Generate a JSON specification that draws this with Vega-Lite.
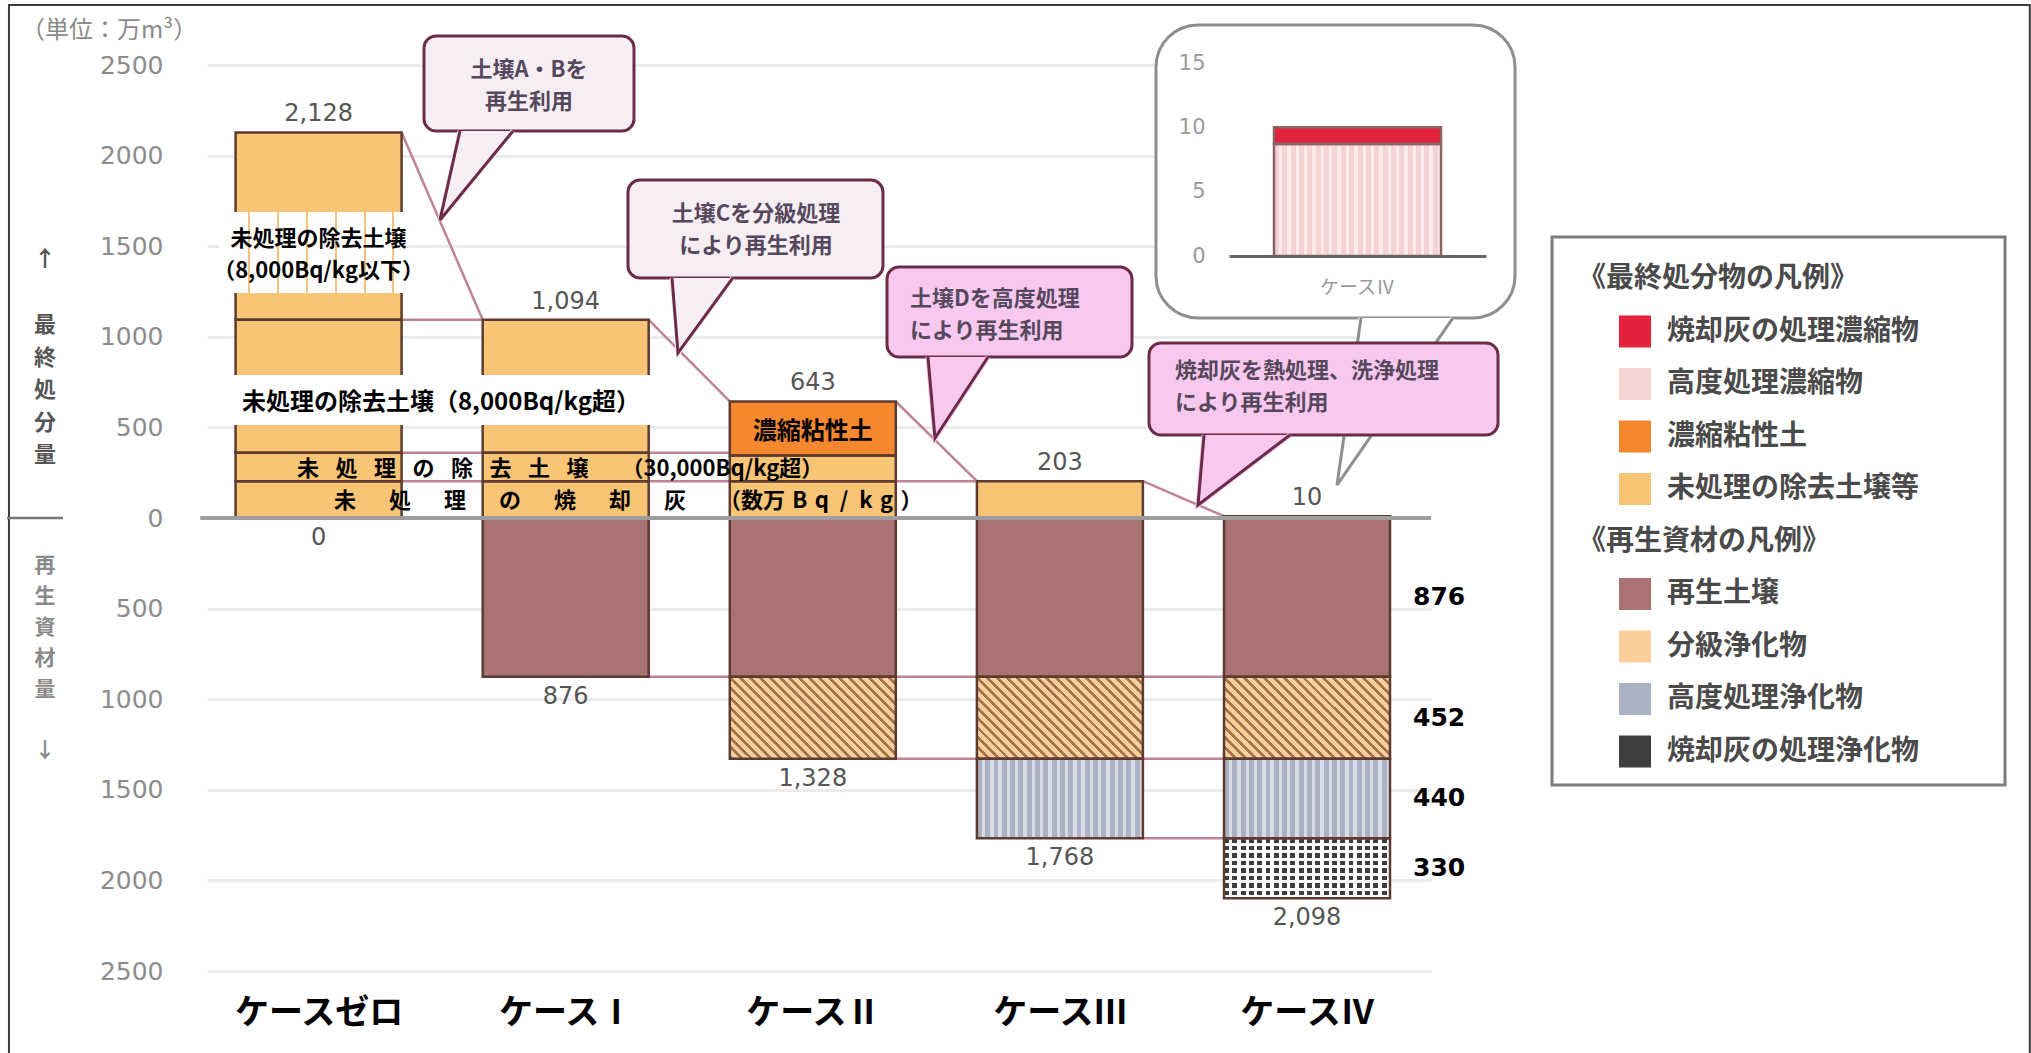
{
  "$schema": "https://vega.github.io/schema/vega-lite/v6.json",
  "width": 1224,
  "height": 906,
  "autosize": {"type": "none"},
  "padding": {"left": 207, "top": 65, "right": 600, "bottom": 82},
  "background": "#ffffff",
  "config": {"view": {"stroke": null}, "font": "Noto Sans CJK JP"},
  "datasets": {
    "seg": [
      {"case": 0, "kind": "未処理の除去土壌等", "part": "未処理の焼却灰", "amount": 203, "seq": 1},
      {"case": 0, "kind": "未処理の除去土壌等", "part": "除去土壌30,000Bq/kg超", "amount": 157, "seq": 2},
      {"case": 0, "kind": "未処理の除去土壌等", "part": "除去土壌8,000Bq/kg超", "amount": 734, "seq": 3},
      {"case": 0, "kind": "未処理の除去土壌等", "part": "除去土壌8,000Bq/kg以下", "amount": 1034, "seq": 4},
      {"case": 1, "kind": "未処理の除去土壌等", "part": "未処理の焼却灰", "amount": 203, "seq": 1},
      {"case": 1, "kind": "未処理の除去土壌等", "part": "除去土壌30,000Bq/kg超", "amount": 157, "seq": 2},
      {"case": 1, "kind": "未処理の除去土壌等", "part": "除去土壌8,000Bq/kg超", "amount": 734, "seq": 3},
      {"case": 2, "kind": "未処理の除去土壌等", "part": "未処理の焼却灰", "amount": 203, "seq": 1},
      {"case": 2, "kind": "未処理の除去土壌等", "part": "除去土壌30,000Bq/kg超", "amount": 142, "seq": 2},
      {"case": 2, "kind": "濃縮粘性土", "part": "濃縮粘性土", "amount": 298, "seq": 3},
      {"case": 3, "kind": "未処理の除去土壌等", "part": "未処理の除去土壌等", "amount": 203, "seq": 1},
      {"case": 4, "kind": "高度処理濃縮物", "part": "高度処理濃縮物", "amount": 8.7, "seq": 1},
      {"case": 4, "kind": "焼却灰の処理濃縮物", "part": "焼却灰の処理濃縮物", "amount": 1.3, "seq": 2},
      {"case": 1, "kind": "再生土壌", "part": "再生土壌", "amount": -876, "seq": 1},
      {"case": 2, "kind": "再生土壌", "part": "再生土壌", "amount": -876, "seq": 1},
      {"case": 2, "kind": "分級浄化物", "part": "分級浄化物", "amount": -452, "seq": 2},
      {"case": 3, "kind": "再生土壌", "part": "再生土壌", "amount": -876, "seq": 1},
      {"case": 3, "kind": "分級浄化物", "part": "分級浄化物", "amount": -452, "seq": 2},
      {"case": 3, "kind": "高度処理浄化物", "part": "高度処理浄化物", "amount": -440, "seq": 3},
      {"case": 4, "kind": "再生土壌", "part": "再生土壌", "amount": -876, "seq": 1},
      {"case": 4, "kind": "分級浄化物", "part": "分級浄化物", "amount": -452, "seq": 2},
      {"case": 4, "kind": "高度処理浄化物", "part": "高度処理浄化物", "amount": -440, "seq": 3},
      {"case": 4, "kind": "焼却灰の処理浄化物", "part": "焼却灰の処理浄化物", "amount": -330, "seq": 4}
    ],
    "totals": [
      {"case": 0, "final": 2128, "recycled": 0},
      {"case": 1, "final": 1094, "recycled": -876},
      {"case": 2, "final": 643, "recycled": -1328},
      {"case": 3, "final": 203, "recycled": -1768},
      {"case": 4, "final": 10, "recycled": -2098}
    ],
    "conn": [
      {"from": 0, "to": 1, "ya": 2128, "yb": 1094},
      {"from": 1, "to": 2, "ya": 1094, "yb": 643},
      {"from": 2, "to": 3, "ya": 643, "yb": 203},
      {"from": 3, "to": 4, "ya": 203, "yb": 10},
      {"from": 0, "to": 1, "ya": 1094, "yb": 1094},
      {"from": 0, "to": 2, "ya": 360, "yb": 360},
      {"from": 0, "to": 3, "ya": 203, "yb": 203},
      {"from": 1, "to": 4, "ya": -876, "yb": -876},
      {"from": 2, "to": 4, "ya": -1328, "yb": -1328},
      {"from": 3, "to": 4, "ya": -1768, "yb": -1768}
    ],
    "boxes": [
      {"id": "L1", "x": -0.4031, "x2": 0.3496, "top": 1689, "bottom": 1242},
      {"id": "L2", "x": -0.3505, "x2": 1.3573, "top": 789, "bottom": 513}
    ],
    "notes": [
      {"id": "L1", "text": ["未処理の除去土壌", "（8,000Bq/kg以下）"], "x": 0, "level": 1537},
      {"id": "L2", "text": "未処理の除去土壌（8,000Bq/kg超）", "x": 0.4953, "level": 635},
      {"id": "L5", "text": "濃縮粘性土", "x": 2, "level": 475},
      {"id": "L3", "text": "未\u2002\u2005処\u2002\u2005理\u2002\u2005の\u2002\u2005除\u2002\u2005去\u2002\u2005土\u2002\u2005壌\u3000\u2002（30,000Bq/kg超）", "x": -0.0874, "level": 273},
      {"id": "L4", "text": "未\u3000\u2002処\u3000\u2002理\u3000\u2002の\u3000\u2002焼\u3000\u2002却\u3000\u2002灰\u3000\u3000（数万\u2004B\u2004q\u2002/\u2002k\u2004g\u2004）", "x": 0.0623, "level": 94}
    ],
    "bodies": [
      {"id": "inset", "x": 3.3889, "x2": 4.8418, "top": 2721, "bottom": 1104},
      {"id": "B1", "x": 0.4266, "x2": 1.2764, "top": 2660, "bottom": 2136},
      {"id": "B2", "x": 1.2521, "x2": 2.284, "top": 1865, "bottom": 1325},
      {"id": "B3", "x": 2.3003, "x2": 3.2918, "top": 1385, "bottom": 888.5},
      {"id": "B4", "x": 3.3606, "x2": 4.773, "top": 965.8, "bottom": 458}
    ],
    "tails": [
      {"id": "inset", "k": 0, "x": 4.2185, "y": 1104},
      {"id": "inset", "k": 1, "x": 4.1214, "y": 182},
      {"id": "inset", "k": 2, "x": 4.5908, "y": 1104},
      {"id": "B1", "k": 0, "x": 0.5722, "y": 2136},
      {"id": "B1", "k": 1, "x": 0.4913, "y": 1645},
      {"id": "B1", "k": 2, "x": 0.7867, "y": 2136},
      {"id": "B2", "k": 0, "x": 1.4302, "y": 1325},
      {"id": "B2", "k": 1, "x": 1.4545, "y": 911},
      {"id": "B2", "k": 2, "x": 1.6763, "y": 1325},
      {"id": "B3", "k": 0, "x": 2.4662, "y": 888.5},
      {"id": "B3", "k": 1, "x": 2.4945, "y": 441.5},
      {"id": "B3", "k": 2, "x": 2.709, "y": 888.5},
      {"id": "B4", "k": 0, "x": 3.5832, "y": 458},
      {"id": "B4", "k": 1, "x": 3.5589, "y": 71.7},
      {"id": "B4", "k": 2, "x": 3.9312, "y": 458}
    ],
    "btext": [
      {"id": "B1", "text": ["土壌A・Bを", "再生利用"], "x": 0.8515, "level": 2475},
      {"id": "B2", "text": ["土壌Cを分級処理", "により再生利用"], "x": 1.77, "level": 1680},
      {"id": "B3", "text": ["土壌Dを高度処理", "により再生利用"], "x": 2.3934, "level": 1211},
      {"id": "B4", "text": ["焼却灰を熱処理、洗浄処理", "により再生利用"], "x": 3.4658, "level": 814}
    ],
    "titles": [
      {"id": "unit", "text": "（単位：万m³）", "x": -1.204, "level": 2688},
      {"id": "upArrow", "text": "↑", "x": -1.1072, "level": 1429},
      {"id": "up", "text": ["最", "終", "処", "分", "量"], "x": -1.1072, "level": 1065},
      {"id": "down", "text": ["再", "生", "資", "材", "量"], "x": -1.1072, "level": -265},
      {"id": "downArrow", "text": "↓", "x": -1.1072, "level": -1286}
    ]
  },
  "layer": [
    {
      "layer": [
        {
          "data": {"values": [{"frame": "outer"}]},
          "mark": {"type": "rect", "fillOpacity": 0, "stroke": "#3c3c3c", "strokeWidth": 2},
          "encoding": {
            "x": {"datum": -1.253, "type": "quantitative", "title": null},
            "x2": {"datum": 6.925},
            "y": {"datum": 2831, "type": "quantitative", "title": null},
            "y2": {"datum": -2991}
          }
        },
        {
          "data": {"values": [{"frame": "legend box"}]},
          "mark": {"type": "rect", "fill": "#ffffff", "stroke": "#7c7c7c", "strokeWidth": 3},
          "encoding": {
            "x": {"datum": 4.9915, "type": "quantitative", "title": null},
            "x2": {"datum": 6.8248},
            "y": {"datum": 1551, "type": "quantitative", "title": null},
            "y2": {"datum": -1474}
          }
        },
        {
          "data": {"name": "conn"},
          "mark": {"type": "rule", "stroke": "#bf8494", "strokeWidth": 2.5, "xOffset": 83, "x2Offset": -83},
          "encoding": {
            "x": {"field": "from", "type": "quantitative", "title": null},
            "x2": {"field": "to"},
            "y": {"field": "ya", "type": "quantitative", "title": null},
            "y2": {"field": "yb"}
          }
        },
        {
          "data": {"name": "seg"},
          "transform": [{"stack": "amount", "groupby": ["case"], "sort": [{"field": "seq", "order": "ascending"}], "as": ["lo", "hi"]}],
          "mark": {"type": "bar", "width": 166},
          "encoding": {
            "x": {
              "field": "case", "type": "quantitative", "title": null,
              "scale": {"domain": [-0.4516, 4.5018], "nice": false, "zero": false, "padding": 0},
              "axis": {
                "values": [0, 1, 2, 3, 4],
                "labelExpr": "['ケースゼロ','ケースⅠ','ケースⅡ','ケースⅢ','ケースⅣ'][datum.value]",
                "title": null, "ticks": false, "domain": false, "grid": false,
                "labelFont": "Noto Sans CJK JP", "labelFontSize": 34, "labelFontWeight": "bold",
                "labelColor": "#000000", "labelPadding": 25, "labelFlush": false, "labelOverlap": false
              }
            },
            "y": {
              "field": "lo", "type": "quantitative", "title": null,
              "scale": {"domain": [-2500, 2500], "nice": false, "zero": false, "padding": 0},
              "axis": {
                "values": [-2500, -2000, -1500, -1000, -500, 0, 500, 1000, 1500, 2000, 2500],
                "labelExpr": "'' + abs(datum.value)",
                "title": null, "ticks": false, "domain": false, "grid": true,
                "gridColor": "#ebebeb", "gridWidth": 3,
                "labelFont": "DejaVu Sans", "labelFontSize": 25, "labelColor": "#8c8c8c",
                "labelPadding": 44, "labelOverlap": false
              }
            },
            "y2": {"field": "hi"},
            "color": {
              "field": "kind", "type": "nominal",
              "scale": {
                "domain": ["《最終処分物の凡例》", "焼却灰の処理濃縮物", "高度処理濃縮物", "濃縮粘性土", "未処理の除去土壌等", "《再生資材の凡例》", "再生土壌", "分級浄化物", "高度処理浄化物", "焼却灰の処理浄化物"],
                "range": ["transparent", "#e3223c", "#f6d3d3", "#f5872f", "#f8c476", "transparent", "#a87372", "#f9cf9c", "#aab2c4", "#3e3e3e"]
              },
              "legend": {
                "orient": "none", "legendX": 1345, "legendY": 176, "title": null,
                "symbolType": "square", "symbolSize": 1024, "symbolStrokeWidth": 0, "symbolOpacity": 1,
                "symbolOffset": 45, "labelOffset": 16,
                "labelFont": "Noto Sans CJK JP", "labelFontSize": 28, "labelFontWeight": "bold",
                "labelColor": "#4a4a4a", "labelLimit": 600, "rowPadding": 20.5, "padding": 22,
                "strokeColor": "transparent", "fillColor": "transparent",
                "encode": {
                  "labels": {"update": {"dx": {"signal": "indexof(datum.value, '《') === 0 ? -89 : 0"}}}
                }
              }
            }
          }
        },
        {
          "data": {"name": "seg"},
          "transform": [{"stack": "amount", "groupby": ["case"], "sort": [{"field": "seq", "order": "ascending"}], "as": ["lo", "hi"]}],
          "mark": {"type": "bar", "width": 166},
          "encoding": {
            "x": {"field": "case", "type": "quantitative", "title": null},
            "y": {"field": "lo", "type": "quantitative", "title": null},
            "y2": {"field": "hi"},
            "fill": {
              "condition": [
                {"test": "datum.kind === '分級浄化物'", "value": {"gradient": "linear", "x1": 0, "y1": 1, "x2": 1.201, "y2": 0.407, "stops": [
                  {"offset": 0, "color": "rgba(130,80,45,0.7)"}, {"offset": 0.016, "color": "rgba(130,80,45,0.7)"}, {"offset": 0.016, "color": "rgba(130,80,45,0)"}, {"offset": 0.04, "color": "rgba(130,80,45,0)"},
                  {"offset": 0.04, "color": "rgba(130,80,45,0.7)"}, {"offset": 0.056, "color": "rgba(130,80,45,0.7)"}, {"offset": 0.056, "color": "rgba(130,80,45,0)"}, {"offset": 0.08, "color": "rgba(130,80,45,0)"},
                  {"offset": 0.08, "color": "rgba(130,80,45,0.7)"}, {"offset": 0.096, "color": "rgba(130,80,45,0.7)"}, {"offset": 0.096, "color": "rgba(130,80,45,0)"}, {"offset": 0.12, "color": "rgba(130,80,45,0)"},
                  {"offset": 0.12, "color": "rgba(130,80,45,0.7)"}, {"offset": 0.136, "color": "rgba(130,80,45,0.7)"}, {"offset": 0.136, "color": "rgba(130,80,45,0)"}, {"offset": 0.16, "color": "rgba(130,80,45,0)"},
                  {"offset": 0.16, "color": "rgba(130,80,45,0.7)"}, {"offset": 0.176, "color": "rgba(130,80,45,0.7)"}, {"offset": 0.176, "color": "rgba(130,80,45,0)"}, {"offset": 0.2, "color": "rgba(130,80,45,0)"},
                  {"offset": 0.2, "color": "rgba(130,80,45,0.7)"}, {"offset": 0.216, "color": "rgba(130,80,45,0.7)"}, {"offset": 0.216, "color": "rgba(130,80,45,0)"}, {"offset": 0.24, "color": "rgba(130,80,45,0)"},
                  {"offset": 0.24, "color": "rgba(130,80,45,0.7)"}, {"offset": 0.256, "color": "rgba(130,80,45,0.7)"}, {"offset": 0.256, "color": "rgba(130,80,45,0)"}, {"offset": 0.28, "color": "rgba(130,80,45,0)"},
                  {"offset": 0.28, "color": "rgba(130,80,45,0.7)"}, {"offset": 0.296, "color": "rgba(130,80,45,0.7)"}, {"offset": 0.296, "color": "rgba(130,80,45,0)"}, {"offset": 0.32, "color": "rgba(130,80,45,0)"},
                  {"offset": 0.32, "color": "rgba(130,80,45,0.7)"}, {"offset": 0.336, "color": "rgba(130,80,45,0.7)"}, {"offset": 0.336, "color": "rgba(130,80,45,0)"}, {"offset": 0.36, "color": "rgba(130,80,45,0)"},
                  {"offset": 0.36, "color": "rgba(130,80,45,0.7)"}, {"offset": 0.376, "color": "rgba(130,80,45,0.7)"}, {"offset": 0.376, "color": "rgba(130,80,45,0)"}, {"offset": 0.4, "color": "rgba(130,80,45,0)"},
                  {"offset": 0.4, "color": "rgba(130,80,45,0.7)"}, {"offset": 0.416, "color": "rgba(130,80,45,0.7)"}, {"offset": 0.416, "color": "rgba(130,80,45,0)"}, {"offset": 0.44, "color": "rgba(130,80,45,0)"},
                  {"offset": 0.44, "color": "rgba(130,80,45,0.7)"}, {"offset": 0.456, "color": "rgba(130,80,45,0.7)"}, {"offset": 0.456, "color": "rgba(130,80,45,0)"}, {"offset": 0.48, "color": "rgba(130,80,45,0)"},
                  {"offset": 0.48, "color": "rgba(130,80,45,0.7)"}, {"offset": 0.496, "color": "rgba(130,80,45,0.7)"}, {"offset": 0.496, "color": "rgba(130,80,45,0)"}, {"offset": 0.52, "color": "rgba(130,80,45,0)"},
                  {"offset": 0.52, "color": "rgba(130,80,45,0.7)"}, {"offset": 0.536, "color": "rgba(130,80,45,0.7)"}, {"offset": 0.536, "color": "rgba(130,80,45,0)"}, {"offset": 0.56, "color": "rgba(130,80,45,0)"},
                  {"offset": 0.56, "color": "rgba(130,80,45,0.7)"}, {"offset": 0.576, "color": "rgba(130,80,45,0.7)"}, {"offset": 0.576, "color": "rgba(130,80,45,0)"}, {"offset": 0.6, "color": "rgba(130,80,45,0)"},
                  {"offset": 0.6, "color": "rgba(130,80,45,0.7)"}, {"offset": 0.616, "color": "rgba(130,80,45,0.7)"}, {"offset": 0.616, "color": "rgba(130,80,45,0)"}, {"offset": 0.64, "color": "rgba(130,80,45,0)"},
                  {"offset": 0.64, "color": "rgba(130,80,45,0.7)"}, {"offset": 0.656, "color": "rgba(130,80,45,0.7)"}, {"offset": 0.656, "color": "rgba(130,80,45,0)"}, {"offset": 0.68, "color": "rgba(130,80,45,0)"},
                  {"offset": 0.68, "color": "rgba(130,80,45,0.7)"}, {"offset": 0.696, "color": "rgba(130,80,45,0.7)"}, {"offset": 0.696, "color": "rgba(130,80,45,0)"}, {"offset": 0.72, "color": "rgba(130,80,45,0)"},
                  {"offset": 0.72, "color": "rgba(130,80,45,0.7)"}, {"offset": 0.736, "color": "rgba(130,80,45,0.7)"}, {"offset": 0.736, "color": "rgba(130,80,45,0)"}, {"offset": 0.76, "color": "rgba(130,80,45,0)"},
                  {"offset": 0.76, "color": "rgba(130,80,45,0.7)"}, {"offset": 0.776, "color": "rgba(130,80,45,0.7)"}, {"offset": 0.776, "color": "rgba(130,80,45,0)"}, {"offset": 0.8, "color": "rgba(130,80,45,0)"},
                  {"offset": 0.8, "color": "rgba(130,80,45,0.7)"}, {"offset": 0.816, "color": "rgba(130,80,45,0.7)"}, {"offset": 0.816, "color": "rgba(130,80,45,0)"}, {"offset": 0.84, "color": "rgba(130,80,45,0)"},
                  {"offset": 0.84, "color": "rgba(130,80,45,0.7)"}, {"offset": 0.856, "color": "rgba(130,80,45,0.7)"}, {"offset": 0.856, "color": "rgba(130,80,45,0)"}, {"offset": 0.88, "color": "rgba(130,80,45,0)"},
                  {"offset": 0.88, "color": "rgba(130,80,45,0.7)"}, {"offset": 0.896, "color": "rgba(130,80,45,0.7)"}, {"offset": 0.896, "color": "rgba(130,80,45,0)"}, {"offset": 0.92, "color": "rgba(130,80,45,0)"},
                  {"offset": 0.92, "color": "rgba(130,80,45,0.7)"}, {"offset": 0.936, "color": "rgba(130,80,45,0.7)"}, {"offset": 0.936, "color": "rgba(130,80,45,0)"}, {"offset": 0.96, "color": "rgba(130,80,45,0)"},
                  {"offset": 0.96, "color": "rgba(130,80,45,0.7)"}, {"offset": 0.976, "color": "rgba(130,80,45,0.7)"}, {"offset": 0.976, "color": "rgba(130,80,45,0)"}, {"offset": 1, "color": "rgba(130,80,45,0)"}
                ]}},
                {"test": "datum.kind === '高度処理浄化物'", "value": {"gradient": "linear", "x1": 0, "y1": 0, "x2": 1, "y2": 0, "stops": [
                  {"offset": 0, "color": "rgba(255,255,255,0)"}, {"offset": 0.03, "color": "rgba(255,255,255,0)"}, {"offset": 0.03, "color": "rgba(255,255,255,0.55)"}, {"offset": 0.05, "color": "rgba(255,255,255,0.55)"},
                  {"offset": 0.05, "color": "rgba(255,255,255,0)"}, {"offset": 0.08, "color": "rgba(255,255,255,0)"}, {"offset": 0.08, "color": "rgba(255,255,255,0.55)"}, {"offset": 0.1, "color": "rgba(255,255,255,0.55)"},
                  {"offset": 0.1, "color": "rgba(255,255,255,0)"}, {"offset": 0.13, "color": "rgba(255,255,255,0)"}, {"offset": 0.13, "color": "rgba(255,255,255,0.55)"}, {"offset": 0.15, "color": "rgba(255,255,255,0.55)"},
                  {"offset": 0.15, "color": "rgba(255,255,255,0)"}, {"offset": 0.18, "color": "rgba(255,255,255,0)"}, {"offset": 0.18, "color": "rgba(255,255,255,0.55)"}, {"offset": 0.2, "color": "rgba(255,255,255,0.55)"},
                  {"offset": 0.2, "color": "rgba(255,255,255,0)"}, {"offset": 0.23, "color": "rgba(255,255,255,0)"}, {"offset": 0.23, "color": "rgba(255,255,255,0.55)"}, {"offset": 0.25, "color": "rgba(255,255,255,0.55)"},
                  {"offset": 0.25, "color": "rgba(255,255,255,0)"}, {"offset": 0.28, "color": "rgba(255,255,255,0)"}, {"offset": 0.28, "color": "rgba(255,255,255,0.55)"}, {"offset": 0.3, "color": "rgba(255,255,255,0.55)"},
                  {"offset": 0.3, "color": "rgba(255,255,255,0)"}, {"offset": 0.33, "color": "rgba(255,255,255,0)"}, {"offset": 0.33, "color": "rgba(255,255,255,0.55)"}, {"offset": 0.35, "color": "rgba(255,255,255,0.55)"},
                  {"offset": 0.35, "color": "rgba(255,255,255,0)"}, {"offset": 0.38, "color": "rgba(255,255,255,0)"}, {"offset": 0.38, "color": "rgba(255,255,255,0.55)"}, {"offset": 0.4, "color": "rgba(255,255,255,0.55)"},
                  {"offset": 0.4, "color": "rgba(255,255,255,0)"}, {"offset": 0.43, "color": "rgba(255,255,255,0)"}, {"offset": 0.43, "color": "rgba(255,255,255,0.55)"}, {"offset": 0.45, "color": "rgba(255,255,255,0.55)"},
                  {"offset": 0.45, "color": "rgba(255,255,255,0)"}, {"offset": 0.48, "color": "rgba(255,255,255,0)"}, {"offset": 0.48, "color": "rgba(255,255,255,0.55)"}, {"offset": 0.5, "color": "rgba(255,255,255,0.55)"},
                  {"offset": 0.5, "color": "rgba(255,255,255,0)"}, {"offset": 0.53, "color": "rgba(255,255,255,0)"}, {"offset": 0.53, "color": "rgba(255,255,255,0.55)"}, {"offset": 0.55, "color": "rgba(255,255,255,0.55)"},
                  {"offset": 0.55, "color": "rgba(255,255,255,0)"}, {"offset": 0.58, "color": "rgba(255,255,255,0)"}, {"offset": 0.58, "color": "rgba(255,255,255,0.55)"}, {"offset": 0.6, "color": "rgba(255,255,255,0.55)"},
                  {"offset": 0.6, "color": "rgba(255,255,255,0)"}, {"offset": 0.63, "color": "rgba(255,255,255,0)"}, {"offset": 0.63, "color": "rgba(255,255,255,0.55)"}, {"offset": 0.65, "color": "rgba(255,255,255,0.55)"},
                  {"offset": 0.65, "color": "rgba(255,255,255,0)"}, {"offset": 0.68, "color": "rgba(255,255,255,0)"}, {"offset": 0.68, "color": "rgba(255,255,255,0.55)"}, {"offset": 0.7, "color": "rgba(255,255,255,0.55)"},
                  {"offset": 0.7, "color": "rgba(255,255,255,0)"}, {"offset": 0.73, "color": "rgba(255,255,255,0)"}, {"offset": 0.73, "color": "rgba(255,255,255,0.55)"}, {"offset": 0.75, "color": "rgba(255,255,255,0.55)"},
                  {"offset": 0.75, "color": "rgba(255,255,255,0)"}, {"offset": 0.78, "color": "rgba(255,255,255,0)"}, {"offset": 0.78, "color": "rgba(255,255,255,0.55)"}, {"offset": 0.8, "color": "rgba(255,255,255,0.55)"},
                  {"offset": 0.8, "color": "rgba(255,255,255,0)"}, {"offset": 0.83, "color": "rgba(255,255,255,0)"}, {"offset": 0.83, "color": "rgba(255,255,255,0.55)"}, {"offset": 0.85, "color": "rgba(255,255,255,0.55)"},
                  {"offset": 0.85, "color": "rgba(255,255,255,0)"}, {"offset": 0.88, "color": "rgba(255,255,255,0)"}, {"offset": 0.88, "color": "rgba(255,255,255,0.55)"}, {"offset": 0.9, "color": "rgba(255,255,255,0.55)"},
                  {"offset": 0.9, "color": "rgba(255,255,255,0)"}, {"offset": 0.93, "color": "rgba(255,255,255,0)"}, {"offset": 0.93, "color": "rgba(255,255,255,0.55)"}, {"offset": 0.95, "color": "rgba(255,255,255,0.55)"},
                  {"offset": 0.95, "color": "rgba(255,255,255,0)"}, {"offset": 0.98, "color": "rgba(255,255,255,0)"}, {"offset": 0.98, "color": "rgba(255,255,255,0.55)"}, {"offset": 1, "color": "rgba(255,255,255,0.55)"}
                ]}},
                {"test": "datum.kind === '焼却灰の処理浄化物'", "value": {"gradient": "linear", "x1": 0, "y1": 0, "x2": 1, "y2": 0, "stops": [
                  {"offset": 0, "color": "rgba(255,255,255,0)"}, {"offset": 0.03, "color": "rgba(255,255,255,0)"}, {"offset": 0.03, "color": "#ffffff"}, {"offset": 0.05, "color": "#ffffff"},
                  {"offset": 0.05, "color": "rgba(255,255,255,0)"}, {"offset": 0.08, "color": "rgba(255,255,255,0)"}, {"offset": 0.08, "color": "#ffffff"}, {"offset": 0.1, "color": "#ffffff"},
                  {"offset": 0.1, "color": "rgba(255,255,255,0)"}, {"offset": 0.13, "color": "rgba(255,255,255,0)"}, {"offset": 0.13, "color": "#ffffff"}, {"offset": 0.15, "color": "#ffffff"},
                  {"offset": 0.15, "color": "rgba(255,255,255,0)"}, {"offset": 0.18, "color": "rgba(255,255,255,0)"}, {"offset": 0.18, "color": "#ffffff"}, {"offset": 0.2, "color": "#ffffff"},
                  {"offset": 0.2, "color": "rgba(255,255,255,0)"}, {"offset": 0.23, "color": "rgba(255,255,255,0)"}, {"offset": 0.23, "color": "#ffffff"}, {"offset": 0.25, "color": "#ffffff"},
                  {"offset": 0.25, "color": "rgba(255,255,255,0)"}, {"offset": 0.28, "color": "rgba(255,255,255,0)"}, {"offset": 0.28, "color": "#ffffff"}, {"offset": 0.3, "color": "#ffffff"},
                  {"offset": 0.3, "color": "rgba(255,255,255,0)"}, {"offset": 0.33, "color": "rgba(255,255,255,0)"}, {"offset": 0.33, "color": "#ffffff"}, {"offset": 0.35, "color": "#ffffff"},
                  {"offset": 0.35, "color": "rgba(255,255,255,0)"}, {"offset": 0.38, "color": "rgba(255,255,255,0)"}, {"offset": 0.38, "color": "#ffffff"}, {"offset": 0.4, "color": "#ffffff"},
                  {"offset": 0.4, "color": "rgba(255,255,255,0)"}, {"offset": 0.43, "color": "rgba(255,255,255,0)"}, {"offset": 0.43, "color": "#ffffff"}, {"offset": 0.45, "color": "#ffffff"},
                  {"offset": 0.45, "color": "rgba(255,255,255,0)"}, {"offset": 0.48, "color": "rgba(255,255,255,0)"}, {"offset": 0.48, "color": "#ffffff"}, {"offset": 0.5, "color": "#ffffff"},
                  {"offset": 0.5, "color": "rgba(255,255,255,0)"}, {"offset": 0.53, "color": "rgba(255,255,255,0)"}, {"offset": 0.53, "color": "#ffffff"}, {"offset": 0.55, "color": "#ffffff"},
                  {"offset": 0.55, "color": "rgba(255,255,255,0)"}, {"offset": 0.58, "color": "rgba(255,255,255,0)"}, {"offset": 0.58, "color": "#ffffff"}, {"offset": 0.6, "color": "#ffffff"},
                  {"offset": 0.6, "color": "rgba(255,255,255,0)"}, {"offset": 0.63, "color": "rgba(255,255,255,0)"}, {"offset": 0.63, "color": "#ffffff"}, {"offset": 0.65, "color": "#ffffff"},
                  {"offset": 0.65, "color": "rgba(255,255,255,0)"}, {"offset": 0.68, "color": "rgba(255,255,255,0)"}, {"offset": 0.68, "color": "#ffffff"}, {"offset": 0.7, "color": "#ffffff"},
                  {"offset": 0.7, "color": "rgba(255,255,255,0)"}, {"offset": 0.73, "color": "rgba(255,255,255,0)"}, {"offset": 0.73, "color": "#ffffff"}, {"offset": 0.75, "color": "#ffffff"},
                  {"offset": 0.75, "color": "rgba(255,255,255,0)"}, {"offset": 0.78, "color": "rgba(255,255,255,0)"}, {"offset": 0.78, "color": "#ffffff"}, {"offset": 0.8, "color": "#ffffff"},
                  {"offset": 0.8, "color": "rgba(255,255,255,0)"}, {"offset": 0.83, "color": "rgba(255,255,255,0)"}, {"offset": 0.83, "color": "#ffffff"}, {"offset": 0.85, "color": "#ffffff"},
                  {"offset": 0.85, "color": "rgba(255,255,255,0)"}, {"offset": 0.88, "color": "rgba(255,255,255,0)"}, {"offset": 0.88, "color": "#ffffff"}, {"offset": 0.9, "color": "#ffffff"},
                  {"offset": 0.9, "color": "rgba(255,255,255,0)"}, {"offset": 0.93, "color": "rgba(255,255,255,0)"}, {"offset": 0.93, "color": "#ffffff"}, {"offset": 0.95, "color": "#ffffff"},
                  {"offset": 0.95, "color": "rgba(255,255,255,0)"}, {"offset": 0.98, "color": "rgba(255,255,255,0)"}, {"offset": 0.98, "color": "#ffffff"}, {"offset": 1, "color": "#ffffff"}
                ]}}
              ],
              "value": "transparent"
            }
          }
        },
        {
          "data": {"name": "seg"},
          "transform": [{"stack": "amount", "groupby": ["case"], "sort": [{"field": "seq", "order": "ascending"}], "as": ["lo", "hi"]}],
          "mark": {"type": "bar", "width": 166},
          "encoding": {
            "x": {"field": "case", "type": "quantitative", "title": null},
            "y": {"field": "lo", "type": "quantitative", "title": null},
            "y2": {"field": "hi"},
            "fill": {
              "condition": {"test": "datum.kind === '焼却灰の処理浄化物'", "value": {"gradient": "linear", "x1": 0, "y1": 0, "x2": 0, "y2": 1, "stops": [
                {"offset": 0, "color": "rgba(255,255,255,0)"}, {"offset": 0.075, "color": "rgba(255,255,255,0)"}, {"offset": 0.075, "color": "#ffffff"}, {"offset": 0.125, "color": "#ffffff"},
                {"offset": 0.125, "color": "rgba(255,255,255,0)"}, {"offset": 0.2, "color": "rgba(255,255,255,0)"}, {"offset": 0.2, "color": "#ffffff"}, {"offset": 0.25, "color": "#ffffff"},
                {"offset": 0.25, "color": "rgba(255,255,255,0)"}, {"offset": 0.325, "color": "rgba(255,255,255,0)"}, {"offset": 0.325, "color": "#ffffff"}, {"offset": 0.375, "color": "#ffffff"},
                {"offset": 0.375, "color": "rgba(255,255,255,0)"}, {"offset": 0.45, "color": "rgba(255,255,255,0)"}, {"offset": 0.45, "color": "#ffffff"}, {"offset": 0.5, "color": "#ffffff"},
                {"offset": 0.5, "color": "rgba(255,255,255,0)"}, {"offset": 0.575, "color": "rgba(255,255,255,0)"}, {"offset": 0.575, "color": "#ffffff"}, {"offset": 0.625, "color": "#ffffff"},
                {"offset": 0.625, "color": "rgba(255,255,255,0)"}, {"offset": 0.7, "color": "rgba(255,255,255,0)"}, {"offset": 0.7, "color": "#ffffff"}, {"offset": 0.75, "color": "#ffffff"},
                {"offset": 0.75, "color": "rgba(255,255,255,0)"}, {"offset": 0.825, "color": "rgba(255,255,255,0)"}, {"offset": 0.825, "color": "#ffffff"}, {"offset": 0.875, "color": "#ffffff"},
                {"offset": 0.875, "color": "rgba(255,255,255,0)"}, {"offset": 0.95, "color": "rgba(255,255,255,0)"}, {"offset": 0.95, "color": "#ffffff"}, {"offset": 1, "color": "#ffffff"}
              ]}},
              "value": "transparent"
            }
          }
        },
        {
          "data": {"name": "seg"},
          "transform": [{"stack": "amount", "groupby": ["case"], "sort": [{"field": "seq", "order": "ascending"}], "as": ["lo", "hi"]}],
          "mark": {"type": "bar", "width": 166, "fillOpacity": 0, "stroke": "#5e3b30", "strokeWidth": 2.5},
          "encoding": {
            "x": {"field": "case", "type": "quantitative", "title": null},
            "y": {"field": "lo", "type": "quantitative", "title": null},
            "y2": {"field": "hi"}
          }
        },
        {
          "data": {"values": [{"line": "baseline"}]},
          "mark": {"type": "rule", "stroke": "#9e9e9e", "strokeWidth": 4},
          "encoding": {
            "x": {"datum": -0.479, "type": "quantitative", "title": null},
            "x2": {"datum": 4.502},
            "y": {"datum": 0, "type": "quantitative", "title": null}
          }
        },
        {
          "data": {"values": [{"line": "divider"}]},
          "mark": {"type": "rule", "stroke": "#777777", "strokeWidth": 2.5},
          "encoding": {
            "x": {"datum": -1.2609, "type": "quantitative", "title": null},
            "x2": {"datum": -1.0344},
            "y": {"datum": 0, "type": "quantitative", "title": null}
          }
        },
        {
          "data": {"name": "boxes"},
          "mark": {"type": "rect"},
          "encoding": {
            "x": {"field": "x", "type": "quantitative", "title": null},
            "x2": {"field": "x2"},
            "y": {"field": "top", "type": "quantitative", "title": null},
            "y2": {"field": "bottom"},
            "fill": {
              "condition": {"test": "datum.id === 'L1'", "value": {"gradient": "linear", "x1": 0, "y1": 0, "x2": 1, "y2": 0, "stops": [
                {"offset": 0, "color": "#ffffff"}, {"offset": 0.1559, "color": "#ffffff"}, {"offset": 0.1559, "color": "#f6c27a"}, {"offset": 0.1667, "color": "#f6c27a"},
                {"offset": 0.1667, "color": "#ffffff"}, {"offset": 0.3118, "color": "#ffffff"}, {"offset": 0.3118, "color": "#f6c27a"}, {"offset": 0.3226, "color": "#f6c27a"},
                {"offset": 0.3226, "color": "#ffffff"}, {"offset": 0.4677, "color": "#ffffff"}, {"offset": 0.4677, "color": "#f6c27a"}, {"offset": 0.4785, "color": "#f6c27a"},
                {"offset": 0.4785, "color": "#ffffff"}, {"offset": 0.6237, "color": "#ffffff"}, {"offset": 0.6237, "color": "#f6c27a"}, {"offset": 0.6344, "color": "#f6c27a"},
                {"offset": 0.6344, "color": "#ffffff"}, {"offset": 0.7796, "color": "#ffffff"}, {"offset": 0.7796, "color": "#f6c27a"}, {"offset": 0.7903, "color": "#f6c27a"},
                {"offset": 0.7903, "color": "#ffffff"}, {"offset": 0.9301, "color": "#ffffff"}, {"offset": 0.9301, "color": "#f6c27a"}, {"offset": 0.9409, "color": "#f6c27a"},
                {"offset": 0.9409, "color": "#ffffff"}, {"offset": 1, "color": "#ffffff"}
              ]}},
              "value": "#ffffff"
            }
          }
        },
        {
          "data": {"name": "notes"},
          "transform": [{"filter": "datum.id === 'L2' || datum.id === 'L5'"}],
          "mark": {"type": "text", "align": "center", "baseline": "middle", "font": "Noto Sans CJK JP", "fontSize": 24, "fontWeight": "bold", "fill": "#000000"},
          "encoding": {
            "x": {"field": "x", "type": "quantitative", "title": null},
            "y": {"field": "level", "type": "quantitative", "title": null},
            "text": {"field": "text"}
          }
        },
        {
          "data": {"name": "notes"},
          "transform": [{"filter": "datum.id === 'L1'"}],
          "mark": {"type": "text", "align": "center", "baseline": "middle", "font": "Noto Sans CJK JP", "fontSize": 22, "fontWeight": "bold", "fill": "#000000", "lineHeight": 32},
          "encoding": {
            "x": {"field": "x", "type": "quantitative", "title": null},
            "y": {"field": "level", "type": "quantitative", "title": null},
            "text": {"field": "text"}
          }
        },
        {
          "data": {"name": "notes"},
          "transform": [{"filter": "datum.id === 'L3' || datum.id === 'L4'"}],
          "mark": {"type": "text", "align": "left", "baseline": "middle", "font": "Noto Sans CJK JP", "fontSize": 22, "fontWeight": "bold", "fill": "#000000"},
          "encoding": {
            "x": {"field": "x", "type": "quantitative", "title": null},
            "y": {"field": "level", "type": "quantitative", "title": null},
            "text": {"field": "text"}
          }
        },
        {
          "data": {"name": "totals"},
          "mark": {"type": "text", "align": "center", "baseline": "bottom", "dy": -6, "font": "DejaVu Sans", "fontSize": 24, "fill": "#555555"},
          "encoding": {
            "x": {"field": "case", "type": "quantitative", "title": null},
            "y": {"field": "final", "type": "quantitative", "title": null},
            "text": {"field": "final", "type": "quantitative", "format": ","}
          }
        },
        {
          "data": {"name": "totals"},
          "mark": {"type": "text", "align": "center", "baseline": "top", "dy": 8, "font": "DejaVu Sans", "fontSize": 24, "fill": "#555555", "text": {"expr": "format(abs(datum.recycled), ',')"}},
          "encoding": {
            "x": {"field": "case", "type": "quantitative", "title": null},
            "y": {"field": "recycled", "type": "quantitative", "title": null}
          }
        },
        {
          "data": {"name": "seg"},
          "transform": [{"filter": "datum.case === 4 && datum.amount < 0"}],
          "mark": {"type": "text", "align": "left", "baseline": "middle", "dx": 106, "font": "DejaVu Sans", "fontSize": 25, "fontWeight": "bold", "fill": "#000000", "text": {"expr": "format(abs(datum.amount), ',')"}},
          "encoding": {
            "x": {"field": "case", "type": "quantitative", "title": null},
            "y": {"field": "amount", "type": "quantitative", "stack": "zero", "bandPosition": 0.5, "title": null},
            "order": {"field": "seq"}
          }
        },
        {
          "data": {"name": "bodies"},
          "transform": [{"filter": "datum.id === 'inset'"}],
          "mark": {"type": "rect", "cornerRadius": 42, "fill": "#ffffff", "stroke": "#8e8e8e", "strokeWidth": 3},
          "encoding": {
            "x": {"field": "x", "type": "quantitative", "title": null},
            "x2": {"field": "x2"},
            "y": {"field": "top", "type": "quantitative", "title": null},
            "y2": {"field": "bottom"}
          }
        },
        {
          "data": {"name": "tails"},
          "transform": [{"filter": "datum.id === 'inset'"}],
          "mark": {"type": "line", "filled": true, "fill": "#ffffff", "stroke": "#ffffff", "strokeWidth": 5},
          "encoding": {
            "x": {"field": "x", "type": "quantitative", "title": null},
            "y": {"field": "y", "type": "quantitative", "title": null},
            "order": {"field": "k"},
            "detail": {"field": "id"}
          }
        },
        {
          "data": {"name": "tails"},
          "transform": [{"filter": "datum.id === 'inset'"}],
          "mark": {"type": "line", "stroke": "#8e8e8e", "strokeWidth": 3},
          "encoding": {
            "x": {"field": "x", "type": "quantitative", "title": null},
            "y": {"field": "y", "type": "quantitative", "title": null},
            "order": {"field": "k"},
            "detail": {"field": "id"}
          }
        },
        {
          "data": {"name": "bodies"},
          "transform": [{"filter": "datum.id !== 'inset'"}],
          "mark": {"type": "rect", "cornerRadius": 12, "stroke": "#6b2c47", "strokeWidth": 3},
          "encoding": {
            "x": {"field": "x", "type": "quantitative", "title": null},
            "x2": {"field": "x2"},
            "y": {"field": "top", "type": "quantitative", "title": null},
            "y2": {"field": "bottom"},
            "fill": {"condition": {"test": "datum.id === 'B3' || datum.id === 'B4'", "value": "#f8c8ef"}, "value": "#f6eef2"}
          }
        },
        {
          "data": {"name": "tails"},
          "transform": [{"filter": "datum.id !== 'inset'"}],
          "mark": {"type": "line", "filled": true, "strokeWidth": 5},
          "encoding": {
            "x": {"field": "x", "type": "quantitative", "title": null},
            "y": {"field": "y", "type": "quantitative", "title": null},
            "order": {"field": "k"},
            "detail": {"field": "id"},
            "fill": {"condition": {"test": "datum.id === 'B3' || datum.id === 'B4'", "value": "#f8c8ef"}, "value": "#f6eef2"},
            "stroke": {"condition": {"test": "datum.id === 'B3' || datum.id === 'B4'", "value": "#f8c8ef"}, "value": "#f6eef2"}
          }
        },
        {
          "data": {"name": "tails"},
          "transform": [{"filter": "datum.id !== 'inset'"}],
          "mark": {"type": "line", "stroke": "#6b2c47", "strokeWidth": 3},
          "encoding": {
            "x": {"field": "x", "type": "quantitative", "title": null},
            "y": {"field": "y", "type": "quantitative", "title": null},
            "order": {"field": "k"},
            "detail": {"field": "id"}
          }
        },
        {
          "data": {"name": "btext"},
          "transform": [{"filter": "datum.id === 'B1' || datum.id === 'B2'"}],
          "mark": {"type": "text", "align": "center", "baseline": "middle", "font": "Noto Sans CJK JP", "fontSize": 22, "fontWeight": "bold", "fill": "#55485c", "lineHeight": 32},
          "encoding": {
            "x": {"field": "x", "type": "quantitative", "title": null},
            "y": {"field": "level", "type": "quantitative", "title": null},
            "text": {"field": "text"}
          }
        },
        {
          "data": {"name": "btext"},
          "transform": [{"filter": "datum.id === 'B3' || datum.id === 'B4'"}],
          "mark": {"type": "text", "align": "left", "baseline": "middle", "font": "Noto Sans CJK JP", "fontSize": 22, "fontWeight": "bold", "fill": "#55485c", "lineHeight": 32},
          "encoding": {
            "x": {"field": "x", "type": "quantitative", "title": null},
            "y": {"field": "level", "type": "quantitative", "title": null},
            "text": {"field": "text"}
          }
        },
        {
          "data": {"name": "titles"},
          "transform": [{"filter": "datum.id === 'unit'"}],
          "mark": {"type": "text", "align": "left", "baseline": "middle", "font": "Noto Sans CJK JP", "fontSize": 24, "fill": "#8a8a8a"},
          "encoding": {
            "x": {"field": "x", "type": "quantitative", "title": null},
            "y": {"field": "level", "type": "quantitative", "title": null},
            "text": {"field": "text"}
          }
        },
        {
          "data": {"name": "titles"},
          "transform": [{"filter": "datum.id === 'up' || datum.id === 'upArrow'"}],
          "mark": {"type": "text", "align": "center", "baseline": "middle", "font": "Noto Sans CJK JP", "fontSize": 22, "fontWeight": "bold", "fill": "#555555", "lineHeight": 32.5},
          "encoding": {
            "x": {"field": "x", "type": "quantitative", "title": null},
            "y": {"field": "level", "type": "quantitative", "title": null},
            "text": {"field": "text"}
          }
        },
        {
          "data": {"name": "titles"},
          "transform": [{"filter": "datum.id === 'down' || datum.id === 'downArrow'"}],
          "mark": {"type": "text", "align": "center", "baseline": "middle", "font": "Noto Sans CJK JP", "fontSize": 21, "fontWeight": "bold", "fill": "#8a8a8a", "lineHeight": 31},
          "encoding": {
            "x": {"field": "x", "type": "quantitative", "title": null},
            "y": {"field": "level", "type": "quantitative", "title": null},
            "text": {"field": "text"}
          }
        }
      ]
    },
    {
      "data": {"name": "seg"},
      "transform": [
        {"stack": "amount", "groupby": ["case"], "sort": [{"field": "seq", "order": "ascending"}], "as": ["lo", "hi"]},
        {"filter": "datum.case === 4 && datum.amount > 0"}
      ],
      "encoding": {
        "x": {
          "field": "case", "type": "ordinal",
          "scale": {"domain": [4], "range": [1022, 1279], "paddingInner": 0, "paddingOuter": 0.2695},
          "axis": {
            "orient": "bottom", "offset": -715, "labelExpr": "'ケースⅣ'", "title": null,
            "ticks": false, "domain": true, "domainColor": "#666666", "domainWidth": 3,
            "labelFont": "Noto Sans CJK JP", "labelFontSize": 19, "labelColor": "#9a9a9a",
            "labelPadding": 22, "labelAngle": 0, "zindex": 1
          }
        },
        "y": {
          "field": "lo", "type": "quantitative",
          "scale": {"domain": [0, 15], "range": [191, -2], "nice": false, "zero": false},
          "axis": {
            "orient": "left", "offset": -1022, "values": [0, 5, 10, 15], "title": null,
            "ticks": false, "domain": false, "grid": false,
            "labelFont": "DejaVu Sans", "labelFontSize": 21, "labelColor": "#9a9a9a",
            "labelPadding": 24, "zindex": 1
          }
        },
        "y2": {"field": "hi"}
      },
      "layer": [
        {
          "mark": {"type": "bar"},
          "encoding": {"color": {"field": "kind", "type": "nominal", "legend": null}}
        },
        {
          "mark": {"type": "bar"},
          "encoding": {
            "fill": {
              "condition": {"test": "datum.kind === '高度処理濃縮物'", "value": {"gradient": "linear", "x1": 0, "y1": 0, "x2": 1, "y2": 0, "stops": [
                {"offset": 0, "color": "rgba(255,255,255,0)"}, {"offset": 0.03, "color": "rgba(255,255,255,0)"}, {"offset": 0.03, "color": "rgba(255,255,255,0.55)"}, {"offset": 0.05, "color": "rgba(255,255,255,0.55)"},
                {"offset": 0.05, "color": "rgba(255,255,255,0)"}, {"offset": 0.08, "color": "rgba(255,255,255,0)"}, {"offset": 0.08, "color": "rgba(255,255,255,0.55)"}, {"offset": 0.1, "color": "rgba(255,255,255,0.55)"},
                {"offset": 0.1, "color": "rgba(255,255,255,0)"}, {"offset": 0.13, "color": "rgba(255,255,255,0)"}, {"offset": 0.13, "color": "rgba(255,255,255,0.55)"}, {"offset": 0.15, "color": "rgba(255,255,255,0.55)"},
                {"offset": 0.15, "color": "rgba(255,255,255,0)"}, {"offset": 0.18, "color": "rgba(255,255,255,0)"}, {"offset": 0.18, "color": "rgba(255,255,255,0.55)"}, {"offset": 0.2, "color": "rgba(255,255,255,0.55)"},
                {"offset": 0.2, "color": "rgba(255,255,255,0)"}, {"offset": 0.23, "color": "rgba(255,255,255,0)"}, {"offset": 0.23, "color": "rgba(255,255,255,0.55)"}, {"offset": 0.25, "color": "rgba(255,255,255,0.55)"},
                {"offset": 0.25, "color": "rgba(255,255,255,0)"}, {"offset": 0.28, "color": "rgba(255,255,255,0)"}, {"offset": 0.28, "color": "rgba(255,255,255,0.55)"}, {"offset": 0.3, "color": "rgba(255,255,255,0.55)"},
                {"offset": 0.3, "color": "rgba(255,255,255,0)"}, {"offset": 0.33, "color": "rgba(255,255,255,0)"}, {"offset": 0.33, "color": "rgba(255,255,255,0.55)"}, {"offset": 0.35, "color": "rgba(255,255,255,0.55)"},
                {"offset": 0.35, "color": "rgba(255,255,255,0)"}, {"offset": 0.38, "color": "rgba(255,255,255,0)"}, {"offset": 0.38, "color": "rgba(255,255,255,0.55)"}, {"offset": 0.4, "color": "rgba(255,255,255,0.55)"},
                {"offset": 0.4, "color": "rgba(255,255,255,0)"}, {"offset": 0.43, "color": "rgba(255,255,255,0)"}, {"offset": 0.43, "color": "rgba(255,255,255,0.55)"}, {"offset": 0.45, "color": "rgba(255,255,255,0.55)"},
                {"offset": 0.45, "color": "rgba(255,255,255,0)"}, {"offset": 0.48, "color": "rgba(255,255,255,0)"}, {"offset": 0.48, "color": "rgba(255,255,255,0.55)"}, {"offset": 0.5, "color": "rgba(255,255,255,0.55)"},
                {"offset": 0.5, "color": "rgba(255,255,255,0)"}, {"offset": 0.53, "color": "rgba(255,255,255,0)"}, {"offset": 0.53, "color": "rgba(255,255,255,0.55)"}, {"offset": 0.55, "color": "rgba(255,255,255,0.55)"},
                {"offset": 0.55, "color": "rgba(255,255,255,0)"}, {"offset": 0.58, "color": "rgba(255,255,255,0)"}, {"offset": 0.58, "color": "rgba(255,255,255,0.55)"}, {"offset": 0.6, "color": "rgba(255,255,255,0.55)"},
                {"offset": 0.6, "color": "rgba(255,255,255,0)"}, {"offset": 0.63, "color": "rgba(255,255,255,0)"}, {"offset": 0.63, "color": "rgba(255,255,255,0.55)"}, {"offset": 0.65, "color": "rgba(255,255,255,0.55)"},
                {"offset": 0.65, "color": "rgba(255,255,255,0)"}, {"offset": 0.68, "color": "rgba(255,255,255,0)"}, {"offset": 0.68, "color": "rgba(255,255,255,0.55)"}, {"offset": 0.7, "color": "rgba(255,255,255,0.55)"},
                {"offset": 0.7, "color": "rgba(255,255,255,0)"}, {"offset": 0.73, "color": "rgba(255,255,255,0)"}, {"offset": 0.73, "color": "rgba(255,255,255,0.55)"}, {"offset": 0.75, "color": "rgba(255,255,255,0.55)"},
                {"offset": 0.75, "color": "rgba(255,255,255,0)"}, {"offset": 0.78, "color": "rgba(255,255,255,0)"}, {"offset": 0.78, "color": "rgba(255,255,255,0.55)"}, {"offset": 0.8, "color": "rgba(255,255,255,0.55)"},
                {"offset": 0.8, "color": "rgba(255,255,255,0)"}, {"offset": 0.83, "color": "rgba(255,255,255,0)"}, {"offset": 0.83, "color": "rgba(255,255,255,0.55)"}, {"offset": 0.85, "color": "rgba(255,255,255,0.55)"},
                {"offset": 0.85, "color": "rgba(255,255,255,0)"}, {"offset": 0.88, "color": "rgba(255,255,255,0)"}, {"offset": 0.88, "color": "rgba(255,255,255,0.55)"}, {"offset": 0.9, "color": "rgba(255,255,255,0.55)"},
                {"offset": 0.9, "color": "rgba(255,255,255,0)"}, {"offset": 0.93, "color": "rgba(255,255,255,0)"}, {"offset": 0.93, "color": "rgba(255,255,255,0.55)"}, {"offset": 0.95, "color": "rgba(255,255,255,0.55)"},
                {"offset": 0.95, "color": "rgba(255,255,255,0)"}, {"offset": 0.98, "color": "rgba(255,255,255,0)"}, {"offset": 0.98, "color": "rgba(255,255,255,0.55)"}, {"offset": 1, "color": "rgba(255,255,255,0.55)"}
              ]}},
              "value": "transparent"
            }
          }
        },
        {
          "mark": {"type": "bar", "fillOpacity": 0, "stroke": "#8a6464", "strokeWidth": 2.5}
        }
      ]
    }
  ],
  "resolve": {"scale": {"x": "independent", "y": "independent"}, "axis": {"x": "independent", "y": "independent"}}
}
